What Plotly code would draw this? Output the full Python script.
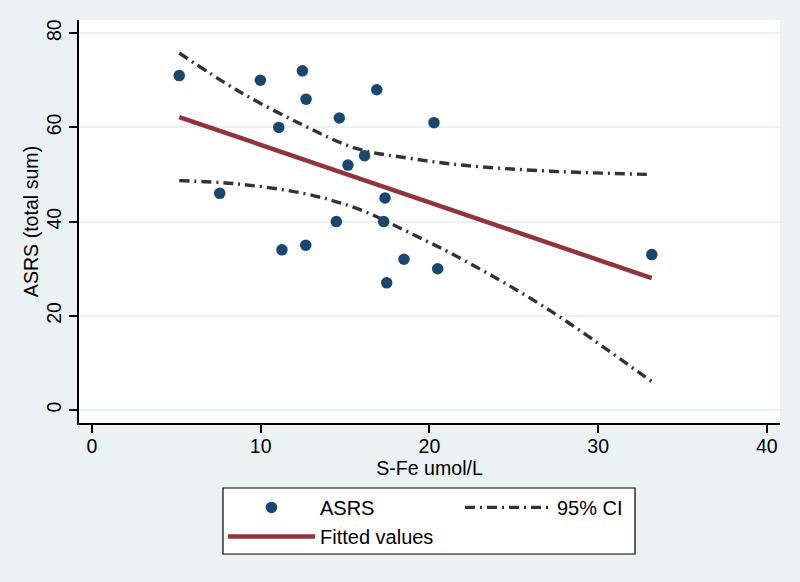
import plotly.graph_objects as go

# Observed data (S-Fe umol/L vs ASRS total sum)
sfe = [5.17, 7.57, 9.98, 11.07, 11.26, 12.47, 12.69, 12.67, 14.66, 14.48,
       15.17, 16.16, 16.88, 17.37, 17.29, 17.47, 18.49, 20.27, 20.49, 33.18]
asrs = [71, 46, 70, 60, 34, 72, 66, 35, 62, 40,
        52, 54, 68, 45, 40, 27, 32, 61, 30, 33]

# Fitted line (end points)
fit_x = [5.17, 33.18]
fit_y = [62.2, 28.0]

# 95% CI bounds
ci_x = [5.17, 8.6, 12.5, 15.7, 18.9, 22.2, 27.2, 33.18]
ci_upper = [75.8, 67.9, 60.5, 55.5, 53.4, 51.9, 50.7, 50.0]
ci_lower = [48.7, 48.0, 46.0, 42.8, 37.5, 31.5, 21.0, 6.0]

xticks = [0, 10, 20, 30, 40]
yticks = [0, 20, 40, 60, 80]

FONT = "Liberation Sans, Arial, sans-serif"
BG = "#EAF2F3"
CI_COLOR = "#333333"
CI_DASH = "10px,5px,2px,5px"

fig = go.Figure()

fig.add_trace(go.Scatter(
    x=ci_x, y=ci_upper, mode="lines", name="95% CI",
    line=dict(color=CI_COLOR, width=3.4, dash=CI_DASH, shape="spline"),
    legendrank=2, showlegend=True))
fig.add_trace(go.Scatter(
    x=ci_x, y=ci_lower, mode="lines", name="95% CI",
    line=dict(color=CI_COLOR, width=3.4, dash=CI_DASH, shape="spline"),
    showlegend=False))
fig.add_trace(go.Scatter(
    x=fit_x, y=fit_y, mode="lines", name="Fitted values",
    line=dict(color="#90353B", width=4.5), legendrank=3))
fig.add_trace(go.Scatter(
    x=sfe, y=asrs, mode="markers", name="ASRS",
    marker=dict(color="#1A476F", size=11.5, line=dict(width=0)),
    legendrank=1))

# legend frame (paper coordinates)
fig.add_shape(type="rect", xref="paper", yref="paper",
              x0=0.2054, x1=0.7932, y0=-0.325, y1=-0.1613,
              fillcolor="white", line=dict(color="black", width=1.2),
              layer="below")

fig.update_layout(
    width=800, height=582,
    paper_bgcolor=BG, plot_bgcolor="white",
    margin=dict(l=79, r=20, t=20, b=159),
    font=dict(family=FONT, size=19.5, color="black"),
    showlegend=True,
    legend=dict(
        orientation="h", x=0.2054, xanchor="left", y=-0.161, yanchor="top",
        bgcolor="rgba(0,0,0,0)", borderwidth=0,
        font=dict(family=FONT, size=20, color="black"),
        entrywidth=135, entrywidthmode="pixels",
        traceorder="normal", itemwidth=87, tracegroupgap=0,
    ),
)

fig.update_xaxes(
    range=[-0.77, 40.78], tickvals=xticks, ticktext=[str(v) for v in xticks],
    showgrid=False, zeroline=False,
    showline=True, linecolor="black", linewidth=1.5,
    ticks="outside", ticklen=8, tickwidth=1.5, tickcolor="black",
    ticklabelstandoff=-3,
    title=dict(text="S-Fe umol/L", standoff=5, font=dict(size=19.6)),
    tickfont=dict(size=19.5),
)
fig.update_yaxes(
    range=[-2.76, 82.8], tickvals=yticks, ticktext=[str(v) for v in yticks],
    showgrid=True, gridcolor=BG, gridwidth=1.5, zeroline=False,
    showline=True, linecolor="black", linewidth=1.5,
    ticks="outside", ticklen=8, tickwidth=1.5, tickcolor="black",
    tickangle=-90,
    title=dict(text="ASRS (total sum)", standoff=0, font=dict(size=19.6)),
    tickfont=dict(size=19.5),
)

fig.write_html(
    "out.html",
    config={"displayModeBar": False},
    post_script="document.body.style.margin='0';document.body.style.background='#EAF2F3';",
)
